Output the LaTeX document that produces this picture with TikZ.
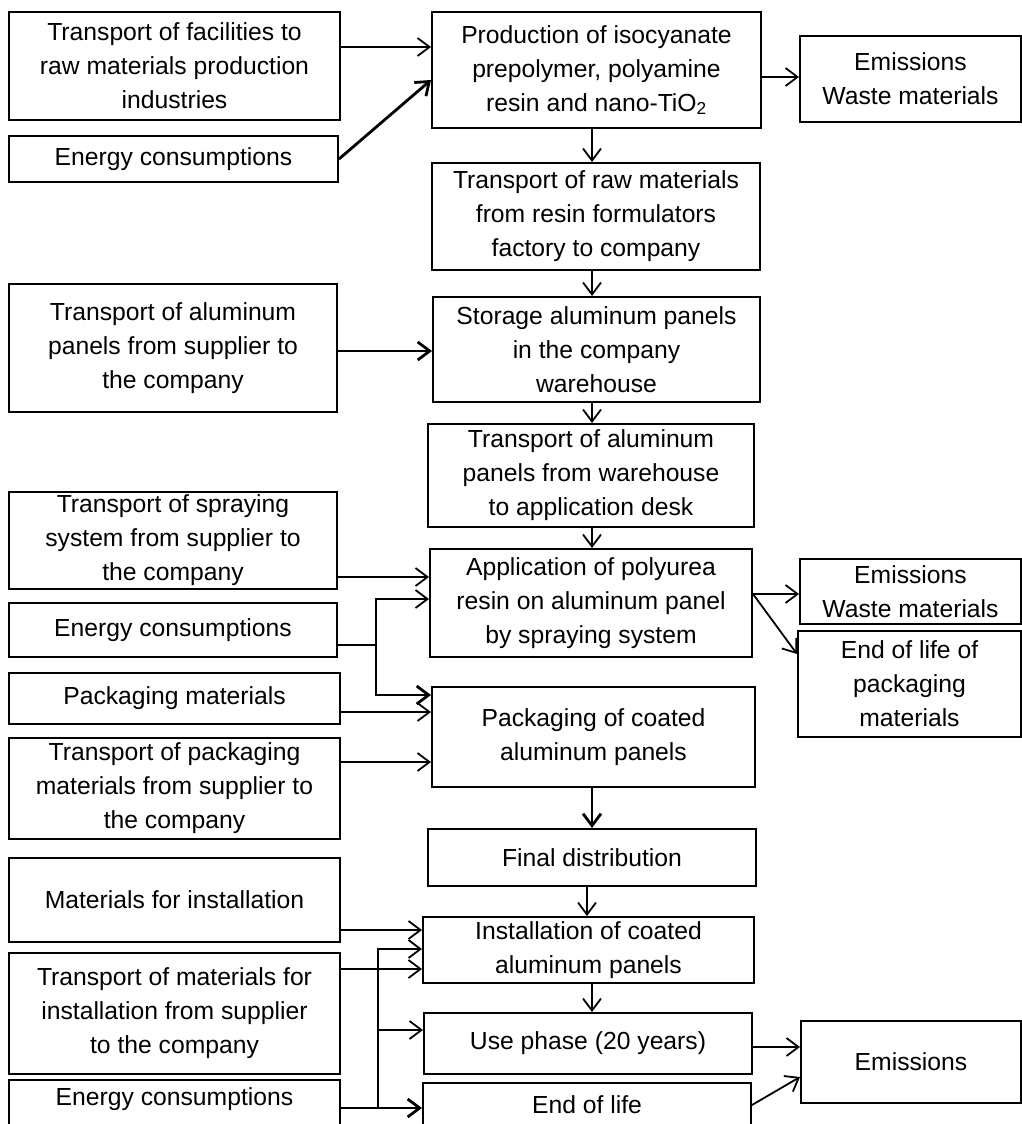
\documentclass[tikz,border=0pt]{standalone}
\usepackage{fontspec}
\setmainfont{Liberation Sans}
\usetikzlibrary{arrows.meta}
\tikzset{
  box/.style={draw, line width=2pt, inner sep=2pt, align=center, font=\fontsize{24.7}{34}\selectfont},
  arr/.style={line width=1.8pt, -{Straight Barb[length=12pt,width=18pt]}},
  tarr/.style={arr, line width=2.8pt},
  ln/.style={line width=1.8pt},
  tln/.style={line width=2.8pt},
}
\newcommand\mybox[6]{\node[box, minimum width={#4-#2}, minimum height={#5-#3}] (#1) at ({(#2+#4)/2},{(#3+#5)/2}) {#6};}
\begin{document}
\begin{tikzpicture}[x=1pt,y=-1pt]
\useasboundingbox (0,0) rectangle (1022,1124);
\clip (0,0) rectangle (1022,1124);
\fill[white] (0,0) rectangle (1022,1124);
% boxes
\mybox{A1}{9}{12}{340}{120}{Transport of facilities to\\raw materials production\\industries}
\mybox{A2}{9}{136}{338}{182}{Energy consumptions}
\mybox{P1}{432}{12}{761}{128}{Production of isocyanate\\prepolymer, polyamine\\resin and nano-TiO\textsubscript{2}}
\mybox{E1}{800}{36}{1021}{122}{Emissions\\Waste materials}
\mybox{P2}{432}{163}{760}{270}{Transport of raw materials\\from resin formulators\\factory  to company}
\mybox{B1}{9}{284}{337}{412}{Transport of aluminum\\panels from supplier to\\the company}
\mybox{P3}{433}{297}{760}{402}{Storage aluminum panels\\in the company\\warehouse}
\mybox{P4}{428}{424}{754}{527}{Transport of aluminum\\panels from warehouse\\to application desk}
\mybox{B2}{9}{492}{337}{589}{Transport of spraying\\system from supplier to\\the company}
\mybox{B3}{9}{603}{337}{657}{Energy consumptions}
\mybox{P5}{430}{549}{752}{657}{Application of polyurea\\resin on aluminum panel\\by spraying system}
\mybox{E2}{800}{559}{1021}{624}{Emissions\\Waste materials}
\mybox{E3}{798}{631}{1021}{737}{End of life of\\packaging\\materials}
\mybox{B4}{9}{673}{340}{724}{Packaging materials}
\mybox{P6}{432}{687}{755}{787}{Packaging of coated\\aluminum panels}
\mybox{B5}{9}{738}{340}{839}{Transport of packaging\\materials from supplier to\\the company}
\mybox{P7}{428}{829}{756}{886}{Final distribution}
\mybox{B6}{9}{858}{340}{942}{Materials for installation}
\mybox{P8}{423}{917}{754}{983}{Installation of coated\\aluminum panels}
\mybox{B7}{9}{953}{340}{1074}{Transport of materials for\\installation from supplier\\to the company}
\mybox{P9}{424}{1013}{752}{1074}{Use phase (20 years)}
\node[box, anchor=north, minimum width=331, text height=25pt, text depth=30pt, inner sep=0pt] (B8) at (174.5,1079) {Energy consumptions};
\mybox{P10}{423}{1083}{751}{1127}{End of life}
\mybox{E4}{801}{1021}{1021}{1103}{Emissions}
% helper levels
\foreach \y in {47,77,80,351,577,594,599,645,654,695,712,762,930,949,969,1030,1047,1077,1108}
  {\coordinate (h\y) at (0,\y);}
\coordinate (v592) at (592,0);
\coordinate (v587) at (587,0);
\coordinate (v376) at (376,0);
\coordinate (v378) at (378,0);
% connectors top
\draw[arr] (A1.east |- h47) -- (P1.west |- h47);
\draw[tarr] (A2.east) -- (P1.west |- h80);
\draw[arr] (P1.east |- h77) -- (E1.west |- h77);
\draw[arr] (P1.south -| v592) -- (P2.north -| v592);
\draw[arr] (P2.south -| v592) -- (P3.north -| v592);
\draw[tarr] (B1.east |- h351) -- (P3.west |- h351);
\draw[arr] (P3.south -| v592) -- (P4.north -| v592);
\draw[arr] (P4.south -| v592) -- (P5.north -| v592);
% application
\draw[arr] (B2.east |- h577) -- (P5.west |- h577);
\draw[ln] (B3.east |- h645) -- (v376 |- h645);
\draw[arr] (v376 |- h645) |- (P5.west |- h599);
\draw[tarr] (v376 |- h645) |- (P6.west |- h695);
\draw[arr] (P5.east |- h594) -- (E2.west |- h594);
\draw[arr] (P5.east |- h594) -- (E3.west |- h654);
% packaging
\draw[arr] (B4.east |- h712) -- (P6.west |- h712);
\draw[arr] (B5.east |- h762) -- (P6.west |- h762);
\draw[tarr] (P6.south -| v592) -- (P7.north -| v592);
\draw[arr] (P7.south -| v587) -- (P8.north -| v587);
% installation
\draw[arr] (B6.east |- h930) -- (P8.west |- h930);
\draw[arr] (B7.east |- h969) -- (P8.west |- h969);
\draw[tarr] (B8.east |- h1108) -- (P10.west |- h1108);
\draw[arr] (v378 |- h1108) |- (P8.west |- h949);
\draw[arr] (v378 |- h1030) -- (P9.west |- h1030);
\draw[arr] (P8.south -| v592) -- (P9.north -| v592);
\draw[arr] (P9.east |- h1047) -- (E4.west |- h1047);
\draw[arr] (P10.east) -- (E4.west |- h1077);
\end{tikzpicture}
\end{document}
